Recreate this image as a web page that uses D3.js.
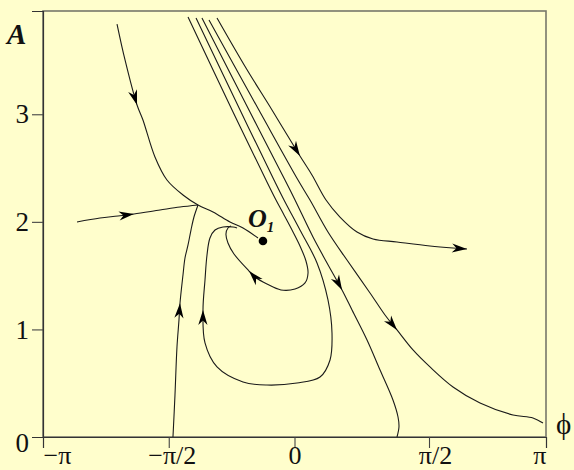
<!DOCTYPE html>
<html>
<head>
<meta charset="utf-8">
<script src="https://cdn.jsdelivr.net/npm/d3@7"></script>
<style>
  html, body { margin: 0; padding: 0; background: #FFFECC; }
  svg { display: block; }
  text { font-family: "Liberation Serif", "Times New Roman", serif; fill: #111; }
</style>
</head>
<body>
<svg id="chart" width="574" height="470"></svg>
<script>
// Phase-plane portrait: phase ϕ (horizontal) against amplitude A (vertical).

const xTickValues = [-Math.PI, -Math.PI / 2, 0, Math.PI / 2, Math.PI];
const xTickLabels = ["−π", "−π/2", "0", "π/2", "π"];
const yTickValues = [1, 2, 3];
const yTickLabels = ["1", "2", "3"];

// Trajectories as [ϕ, A] points, listed in the direction of motion.
const trajTopLeft = [
  [-2.217, 3.839], [-2.117, 3.505], [-1.967, 3.086], [-1.893, 2.947],
  [-1.743, 2.603], [-1.593, 2.389], [-1.393, 2.250], [-1.205, 2.157],
  [-1.018, 2.092], [-0.806, 1.999], [-0.643, 1.943], [-0.456, 1.850]
];
const trajLeft = [
  [-2.717, 1.999], [-2.430, 2.036], [-2.205, 2.054], [-2.005, 2.073],
  [-1.680, 2.110], [-1.430, 2.138], [-1.205, 2.157]
];
const trajBottom = [
  [-1.518, 0.000], [-1.493, 0.390], [-1.468, 0.837], [-1.443, 1.088],
  [-1.430, 1.246], [-1.393, 1.506], [-1.368, 1.664], [-1.330, 1.785],
  [-1.293, 1.924], [-1.256, 2.045], [-1.205, 2.157]
];
const trajInnerLoop = [
  [-1.330, 3.904], [-0.768, 3.021], [-0.356, 2.389], [-0.231, 2.203],
  [-0.131, 2.064], [-0.031, 1.924], [0.064, 1.776], [0.134, 1.636],
  [0.158, 1.525], [0.123, 1.432], [0.006, 1.376], [-0.169, 1.367],
  [-0.344, 1.422], [-0.494, 1.487], [-0.568, 1.543], [-0.756, 1.701],
  [-0.831, 1.803], [-0.856, 1.887], [-0.831, 1.943], [-0.793, 1.961]
];
const trajOuterLoop = [
  [-1.230, 3.895], [-0.668, 3.021], [-0.256, 2.389], [-0.131, 2.203],
  [0.064, 1.924], [0.263, 1.618], [0.391, 1.274], [0.438, 0.967],
  [0.415, 0.716], [0.298, 0.558], [0.029, 0.502], [-0.344, 0.483],
  [-0.643, 0.511], [-0.968, 0.651], [-1.118, 0.874], [-1.143, 1.181],
  [-1.118, 1.460], [-1.093, 1.692], [-1.056, 1.850], [-0.993, 1.924],
  [-0.893, 1.952], [-0.768, 1.952], [-0.718, 1.943]
];
const trajToBottom = [
  [-1.156, 3.895], [-0.556, 3.021], [-0.119, 2.389], [0.006, 2.203],
  [0.216, 1.859], [0.380, 1.618], [0.555, 1.367], [0.672, 1.181],
  [0.847, 0.902], [0.999, 0.623], [1.150, 0.344], [1.209, 0.186],
  [1.220, 0.093], [1.197, 0.000]
];
const trajToRight = [
  [-1.068, 3.876], [-0.431, 3.021], [0.041, 2.389], [0.181, 2.203],
  [0.391, 1.906], [0.613, 1.645], [0.882, 1.339], [1.057, 1.134],
  [1.197, 0.995], [1.384, 0.809], [1.584, 0.651], [1.893, 0.465],
  [2.256, 0.316], [2.699, 0.205], [2.967, 0.177], [3.101, 0.130]
];
const trajOutward = [
  [-0.968, 3.895], [-0.606, 3.430], [-0.281, 3.040], [0.064, 2.612],
  [0.204, 2.436], [0.368, 2.203], [0.531, 2.045], [0.730, 1.906],
  [0.917, 1.841], [1.197, 1.813], [1.584, 1.776], [1.893, 1.757],
  [2.081, 1.748]
];

// Fixed point O1
const fixedPoint = [-0.394, 1.822];
const fixedPointName = "O";
const fixedPointIndex = "1";

// Arrowheads: trajectory and the vertex where the tip sits
const arrowMarks = [
  { traj: "topLeft", at: 2 },
  { traj: "left", at: 3 },
  { traj: "bottom", at: 4 },
  { traj: "outerLoop", at: 15 },
  { traj: "innerLoop", at: 14 },
  { traj: "outward", at: 3 },
  { traj: "outward", at: 12 },
  { traj: "toBottom", at: 6 },
  { traj: "toRight", at: 8 }
];

const trajectories = {
  topLeft: trajTopLeft,
  left: trajLeft,
  bottom: trajBottom,
  innerLoop: trajInnerLoop,
  outerLoop: trajOuterLoop,
  toBottom: trajToBottom,
  toRight: trajToRight,
  outward: trajOutward
};

const svg = d3.select("#chart");
const plotLeft = 43, plotRight = 546, plotTop = 11, plotBottom = 437;

const x = d3.scaleLinear()
  .domain([-Math.PI, 0, Math.PI / 2, Math.PI])
  .range([plotLeft, 294.5, 429, plotRight]);
const y = d3.scaleLinear().domain([0, 3.96]).range([plotBottom, plotTop]);

svg.append("rect").attr("width", 574).attr("height", 470).attr("fill", "#FFFECC");

// plot frame
svg.append("rect")
  .attr("x", plotLeft).attr("y", plotTop)
  .attr("width", plotRight - plotLeft).attr("height", plotBottom - plotTop)
  .attr("fill", "none").attr("stroke", "#77776a").attr("stroke-width", 1.6);

// x axis
const xAxis = d3.axisBottom(x)
  .tickValues(xTickValues)
  .tickSize(11)
  .tickFormat((d, i) => xTickLabels[i]);
const gx = svg.append("g").attr("transform", `translate(0,${plotBottom})`).call(xAxis);
gx.select(".domain").attr("stroke", "#333").attr("stroke-width", 1.2);
gx.selectAll(".tick line").attr("stroke", "#444").attr("stroke-width", 1.1)
  .attr("display", (d, i) => (i === 0 || i === xTickValues.length - 1) ? "none" : null);
gx.selectAll(".tick text")
  .style("font-family", "'Liberation Serif', serif").style("font-size", "26px").attr("fill", "#111")
  .attr("y", 27).attr("dy", 0)
  .attr("text-anchor", (d, i) => i === 0 ? "start" : (i === xTickValues.length - 1 ? "end" : "middle"))
  .attr("dx", (d, i) => i === 3 ? 6 : (i === 1 ? 3 : 0));

// y axis
const yAxis = d3.axisLeft(y)
  .tickValues(yTickValues)
  .tickSize(11).tickPadding(3)
  .tickFormat((d, i) => yTickLabels[i]);
const gy = svg.append("g").attr("transform", `translate(${plotLeft},0)`).call(yAxis);
gy.select(".domain").attr("stroke", "#333").attr("stroke-width", 1.2);
gy.selectAll(".tick line").attr("stroke", "#444").attr("stroke-width", 1.1);
gy.selectAll(".tick text")
  .style("font-family", "'Liberation Serif', serif").style("font-size", "27px").attr("fill", "#111");

// origin label at the corner
svg.append("text")
  .attr("x", plotLeft - 14).attr("y", y(0) + 15)
  .attr("text-anchor", "end")
  .style("font-size", "27px")
  .text("0");

// axis titles
svg.append("text")
  .attr("x", 7).attr("y", 44)
  .style("font-size", "29px").style("font-weight", "bold").style("font-style", "italic")
  .text("A");
svg.append("text")
  .attr("x", 556).attr("y", 434)
  .style("font-size", "29px")
  .text("ϕ");

// trajectories
const line = d3.line()
  .x(d => x(d[0])).y(d => y(d[1]))
  .curve(d3.curveCatmullRom.alpha(0.5));

const nodes = {};
const gTraj = svg.append("g").attr("fill", "none").attr("stroke", "#1a1a1a").attr("stroke-width", 1.1);
Object.entries(trajectories).forEach(([name, pts]) => {
  nodes[name] = gTraj.append("path").attr("d", line(pts)).node();
});

// arrowheads oriented along the local tangent
const gArrows = svg.append("g").attr("fill", "#000");
arrowMarks.forEach(a => {
  const pts = trajectories[a.traj];
  const node = nodes[a.traj];
  const tip = pts[a.at];
  const tx = x(tip[0]), ty = y(tip[1]);
  const L = node.getTotalLength();
  let best = 0, bd = Infinity;
  for (let s = 0; s <= L; s += 0.5) {
    const q = node.getPointAtLength(s);
    const d = (q.x - tx) ** 2 + (q.y - ty) ** 2;
    if (d < bd) { bd = d; best = s; }
  }
  const p2 = node.getPointAtLength(best);
  const p1 = node.getPointAtLength(Math.max(0, best - 5));
  const ang = Math.atan2(p2.y - p1.y, p2.x - p1.x) * 180 / Math.PI;
  gArrows.append("path")
    .attr("d", "M0,0 L-15,-4.6 L-10.5,0 L-15,4.6 Z")
    .attr("transform", `translate(${p2.x},${p2.y}) rotate(${ang})`);
});

// fixed point and its label
svg.append("circle")
  .attr("cx", x(fixedPoint[0])).attr("cy", y(fixedPoint[1]))
  .attr("r", 4.3).attr("fill", "#000");
const lab = svg.append("text")
  .attr("x", x(fixedPoint[0]) - 15).attr("y", y(fixedPoint[1]) - 14)
  .style("font-weight", "bold").style("font-style", "italic");
lab.append("tspan").style("font-size", "26px").text(fixedPointName);
lab.append("tspan").style("font-size", "15px").attr("dy", 5).text(fixedPointIndex);
</script>
</body>
</html>
